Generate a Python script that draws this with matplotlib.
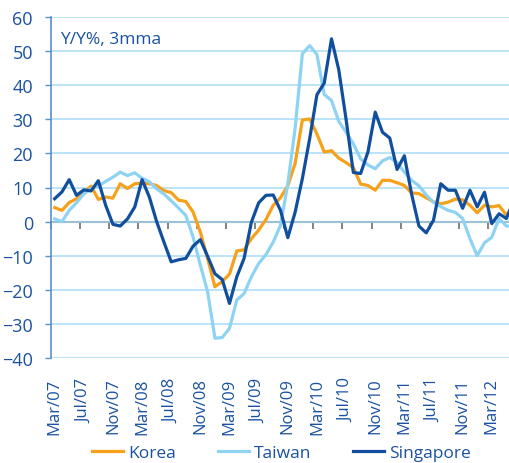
import matplotlib.pyplot as plt
import numpy as np

# monthly, Mar/07 onwards (last point lies just past the right edge)
months = [
    "Mar/07", "Apr/07", "May/07", "Jun/07", "Jul/07", "Aug/07", "Sep/07", "Oct/07",
    "Nov/07", "Dec/07", "Jan/08", "Feb/08", "Mar/08", "Apr/08", "May/08", "Jun/08",
    "Jul/08", "Aug/08", "Sep/08", "Oct/08", "Nov/08", "Dec/08", "Jan/09", "Feb/09",
    "Mar/09", "Apr/09", "May/09", "Jun/09", "Jul/09", "Aug/09", "Sep/09", "Oct/09",
    "Nov/09", "Dec/09", "Jan/10", "Feb/10", "Mar/10", "Apr/10", "May/10", "Jun/10",
    "Jul/10", "Aug/10", "Sep/10", "Oct/10", "Nov/10", "Dec/10", "Jan/11", "Feb/11",
    "Mar/11", "Apr/11", "May/11", "Jun/11", "Jul/11", "Aug/11", "Sep/11", "Oct/11",
    "Nov/11", "Dec/11", "Jan/12", "Feb/12", "Mar/12", "Apr/12", "May/12", "Jun/12",
]

korea = [
    4.1, 3.3, 5.6, 6.7, 8.5, 10.4, 6.5, 7.2, 6.9, 11.1, 9.7, 11.1, 11.3, 11.1, 10.6, 9.1,
    8.5, 6.3, 5.9, 2.8, -3.1, -10.9, -19.1, -17.6, -15.4, -8.6, -8.3, -5.0, -2.5, 0.6, 4.8, 7.0,
    10.5, 17.0, 29.8, 30.1, 25.7, 20.4, 20.8, 18.6, 17.3, 15.8, 11.0, 10.6, 9.2, 12.1, 12.1, 11.4,
    10.6, 8.4, 8.2, 7.0, 5.8, 5.2, 5.7, 6.6, 6.4, 4.8, 2.6, 4.8, 4.3, 4.7, 1.9, 4.7,
]

taiwan = [
    0.8, 0.0, 3.3, 5.5, 8.1, 9.6, 10.4, 11.8, 13.0, 14.5, 13.5, 14.3, 12.7, 11.7, 9.6, 8.1,
    6.1, 4.0, 1.8, -4.5, -12.8, -20.6, -34.2, -34.0, -31.3, -23.0, -21.1, -16.2, -12.3, -9.7, -6.0, -1.1,
    11.0, 27.3, 49.2, 51.6, 49.0, 37.3, 35.5, 29.4, 26.2, 22.8, 18.4, 16.6, 15.5, 17.8, 18.8, 17.3,
    14.5, 12.1, 10.5, 7.8, 5.7, 4.4, 3.3, 2.7, 0.9, -5.0, -10.0, -6.2, -4.6, 0.9, -1.3, -1.3,
]

singapore = [
    6.7, 8.7, 12.3, 7.7, 9.3, 9.0, 12.0, 4.8, -0.8, -1.3, 0.8, 4.3, 12.3, 7.2, 0.0, -6.0,
    -11.8, -11.2, -10.8, -7.2, -5.3, -10.2, -15.3, -17.0, -24.0, -16.2, -10.8, -0.2, 5.5, 7.7, 7.8, 3.3,
    -4.7, 2.7, 12.6, 24.3, 37.2, 40.6, 53.6, 44.5, 30.0, 14.4, 14.1, 20.4, 32.1, 26.2, 24.5, 15.3,
    19.3, 8.0, -1.3, -3.3, 0.4, 11.1, 9.2, 9.2, 3.9, 9.2, 4.3, 8.6, -0.6, 2.3, 0.9, 6.0,
]

FONT = "Open Sans"
TEXT_COLOR = "#1a52a0"
GRID_COLOR = "#a9dcf4"

plt.rcParams["font.family"] = FONT

fig = plt.figure(figsize=(5.1, 4.64), dpi=100)
ax = fig.add_axes([0.1, 0.2263, 0.9, 0.7349])

x = np.arange(len(months))
ax.plot(x, korea, color="#f7a11a", lw=2.3, label="Korea")
ax.plot(x, taiwan, color="#8fd3f4", lw=2.3, label="Taiwan")
ax.plot(x, singapore, color="#114f9e", lw=2.3, label="Singapore")

ax.set_xlim(-0.5, 62.5)
ax.set_ylim(-40, 60)
ax.set_yticks(np.arange(-40, 61, 10))
ax.grid(axis="y", color=GRID_COLOR, lw=1.1)
ax.set_axisbelow(True)

for side in ["top", "right", "bottom"]:
    ax.spines[side].set_visible(False)
ax.spines["left"].set_color("#5b8fcb")
ax.spines["left"].set_linewidth(1.2)

ax.tick_params(axis="y", colors="#5b8fcb", length=4, width=1, pad=9,
               labelsize=13, labelcolor=TEXT_COLOR)

# category labels every 4 months, tick marks between categories on the zero line
label_pos = x[:61:4]
ax.set_xticks(label_pos)
ax.set_xticklabels([months[i] for i in label_pos], rotation=90)
ax.tick_params(axis="x", length=0, pad=14, labelsize=12, labelcolor=TEXT_COLOR)

zero_axis = ax.secondary_xaxis(0.4)
zero_axis.set_xticks(np.arange(-0.5, 62.5, 4))
zero_axis.set_xticklabels([])
zero_axis.tick_params(axis="x", direction="out", length=5, width=1.2, color="#6e6e6e")
zero_axis.spines["bottom"].set_color("#6e6e6e")
zero_axis.spines["bottom"].set_linewidth(1.5)

ax.text(0.02, 0.935, "Y/Y%, 3mma", transform=ax.transAxes, fontsize=12.5,
        color=TEXT_COLOR, va="center", ha="left")

fig.legend(loc="lower center", bbox_to_anchor=(0.552, -0.03), ncol=3, frameon=False,
           fontsize=12.5, handlelength=1.8, handletextpad=0.3, columnspacing=2.4,
           labelcolor=TEXT_COLOR)

fig.savefig("out.png", dpi=100)
